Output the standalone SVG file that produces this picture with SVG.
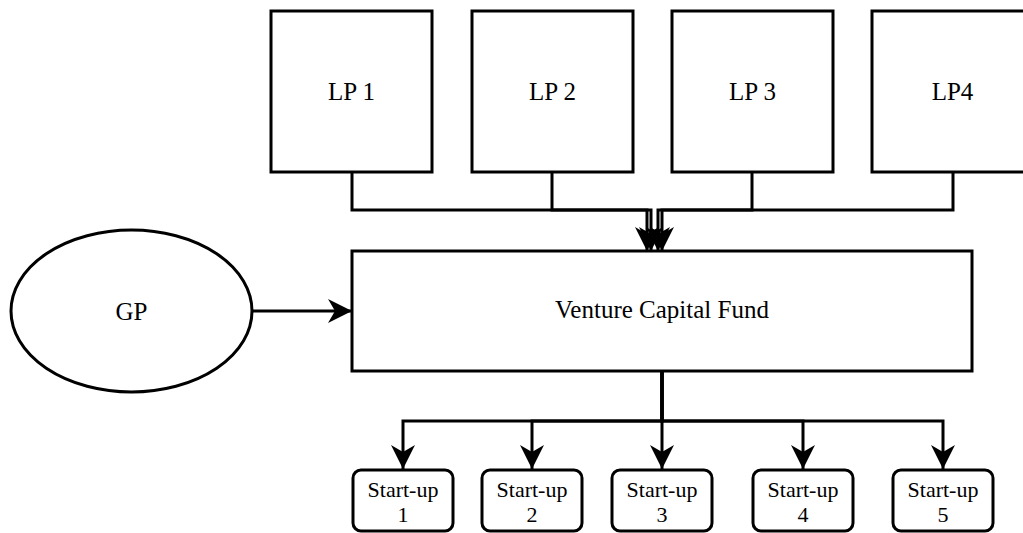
<svg xmlns="http://www.w3.org/2000/svg" width="1023" height="533" viewBox="0 0 1023 533">
<style>
.box{fill:#fff;stroke:#000;stroke-width:3}
.t{font-family:"Liberation Serif","Times New Roman",serif;font-size:25px;fill:#000;text-anchor:middle}
.ts{font-family:"Liberation Serif","Times New Roman",serif;font-size:22px;fill:#000;text-anchor:middle}
.c{fill:none;stroke:#000;stroke-width:3}
</style>
<defs>
<marker id="ah" markerUnits="userSpaceOnUse" markerWidth="26" markerHeight="26" viewBox="0 0 26 26" refX="24" refY="13" orient="auto">
<path d="M0,1 L24,13 L0,25 L7,13 Z" fill="#000"/>
</marker>
</defs>
<rect width="1023" height="533" fill="#fff"/>
<g id="connectors">
<path class="c" d="M352,172 V210 H647 V251" marker-end="url(#ah)"/>
<path class="c" d="M552,172 V210 H651 V251" marker-end="url(#ah)"/>
<path class="c" d="M752,172 V210 H658 V251" marker-end="url(#ah)"/>
<path class="c" d="M953,172 V210 H662 V251" marker-end="url(#ah)"/>
<path class="c" d="M252,311 H352" marker-end="url(#ah)"/>
<path class="c" d="M662,372 V421 H403 V469" marker-end="url(#ah)"/>
<path class="c" d="M662,372 V421 H532 V469" marker-end="url(#ah)"/>
<path class="c" d="M662,372 V469" marker-end="url(#ah)"/>
<path class="c" d="M662,372 V421 H803 V469" marker-end="url(#ah)"/>
<path class="c" d="M662,372 V421 H943 V469" marker-end="url(#ah)"/>
</g>
<g id="lp1"><rect class="box" x="271" y="11" width="161" height="161"/><text class="t" x="351.5" y="100">LP 1</text></g>
<g id="lp2"><rect class="box" x="472" y="11" width="161" height="161"/><text class="t" x="552.5" y="100">LP 2</text></g>
<g id="lp3"><rect class="box" x="672" y="11" width="161" height="161"/><text class="t" x="752.5" y="100">LP 3</text></g>
<g id="lp4"><rect class="box" x="872" y="11" width="161" height="161"/><text class="t" x="952.5" y="100">LP4</text></g>
<g id="gp"><ellipse class="box" cx="131.5" cy="311" rx="120.5" ry="81"/><text class="t" x="131.5" y="320">GP</text></g>
<g id="vcf"><rect class="box" x="352" y="251" width="620" height="120"/><text class="t" x="662" y="318">Venture Capital Fund</text></g>
<g id="s1"><rect class="box" x="353" y="470" width="100" height="61" rx="8"/><text class="ts" x="403" y="497">Start-up</text><text class="ts" x="403" y="522">1</text></g>
<g id="s2"><rect class="box" x="482" y="470" width="100" height="61" rx="8"/><text class="ts" x="532" y="497">Start-up</text><text class="ts" x="532" y="522">2</text></g>
<g id="s3"><rect class="box" x="612" y="470" width="100" height="61" rx="8"/><text class="ts" x="662" y="497">Start-up</text><text class="ts" x="662" y="522">3</text></g>
<g id="s4"><rect class="box" x="753" y="470" width="100" height="61" rx="8"/><text class="ts" x="803" y="497">Start-up</text><text class="ts" x="803" y="522">4</text></g>
<g id="s5"><rect class="box" x="893" y="470" width="100" height="61" rx="8"/><text class="ts" x="943" y="497">Start-up</text><text class="ts" x="943" y="522">5</text></g>
</svg>
